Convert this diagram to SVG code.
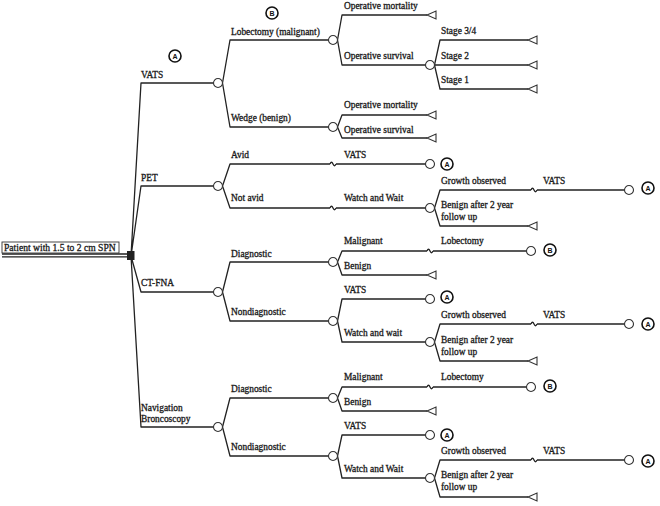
<svg xmlns="http://www.w3.org/2000/svg" xmlns:xlink="http://www.w3.org/1999/xlink" width="660" height="506" viewBox="0 0 660 506">
<style>
.ln{fill:none;stroke:#222;stroke-width:1.3;stroke-linejoin:round}
.t{font-family:"Liberation Serif","Times New Roman",serif;font-size:9.4px;fill:#1a1a1a;stroke:#1a1a1a;stroke-width:0.3}
.ch{fill:#fff;stroke:#333;stroke-width:1.1}
.tri{fill:#fff;stroke:#333;stroke-width:1.1;stroke-linejoin:miter}
.lc{fill:#fff;stroke:#111;stroke-width:1.6}
.lt{font-family:"Liberation Sans",Arial,sans-serif;font-size:7px;font-weight:bold;fill:#111;text-anchor:middle}
</style>
<defs>
<circle id="cn" r="4.5" class="ch"/>
<path id="tm" d="M0,0 L9,-4 L9,4 Z" class="tri"/>
<path id="bk" d="M-3,0 q1.5,-3.5 3,0 t3,0" class="ln"/>
</defs>
<rect width="660" height="506" fill="#fff"/>

<g id="connectors">
<path class="ln" d="M131,256 L141,83 L213.5,83 M131,256 L141,186 L213.5,186 M131,256 L141,292 L213.5,292 M131,256 L141,427 L213.5,427"/>
<path class="ln" d="M2,254 L128,254 M2,256.8 L128,256.8"/>
<!-- VATS -->
<path class="ln" d="M222.5,83 L230,40 L328.5,40 M222.5,83 L230,127 L328.5,127"/>
<path class="ln" d="M337.5,40 L342,15 L427,15 M337.5,40 L342,65 L425.5,65"/>
<path class="ln" d="M434.5,65 L440,40 L528,40 M434.5,65 L528,65 M434.5,65 L440,89 L528,89"/>
<path class="ln" d="M337.5,127 L342,115 L427,115 M337.5,127 L342,138 L427,138"/>
<!-- PET -->
<path class="ln" d="M222.5,186 L230,164 L330,164 M336,164 L425.5,164 M222.5,186 L230,208 L330,208 M336,208 L425.5,208"/>
<path class="ln" d="M434.5,208 L440,190 L531,190 M537,190 L624.5,190 M434.5,208 L440,226 L528,226"/>
<!-- CT-FNA -->
<path class="ln" d="M222.5,292 L230,262 L328.5,262 M222.5,292 L230,321 L328.5,321"/>
<path class="ln" d="M337.5,262 L342,251 L427,251 M433,251 L526.5,251 M337.5,262 L342,275 L427,275"/>
<path class="ln" d="M337.5,321 L342,299 L425.5,299 M337.5,321 L342,342 L425.5,342"/>
<path class="ln" d="M434.5,342 L440,324 L531,324 M537,324 L624.5,324 M434.5,342 L440,361 L528,361"/>
<!-- Navigation -->
<path class="ln" d="M222.5,427 L230,398 L328.5,398 M222.5,427 L230,456 L328.5,456"/>
<path class="ln" d="M337.5,398 L342,387 L427,387 M433,387 L526.5,387 M337.5,398 L342,411 L427,411"/>
<path class="ln" d="M337.5,456 L342,435 L425.5,435 M337.5,456 L342,478 L425.5,478"/>
<path class="ln" d="M434.5,478 L440,460 L531,460 M537,460 L624.5,460 M434.5,478 L440,497 L528,497"/>
<!-- break marks -->
<use xlink:href="#bk" x="333" y="164"/>
<use xlink:href="#bk" x="333" y="208"/>
<use xlink:href="#bk" x="534" y="190"/>
<use xlink:href="#bk" x="430" y="251"/>
<use xlink:href="#bk" x="534" y="324"/>
<use xlink:href="#bk" x="430" y="387"/>
<use xlink:href="#bk" x="534" y="460"/>
</g>

<g id="root">
<rect x="2" y="242" width="117" height="11" fill="#fff" stroke="#333" stroke-width="0.9"/>
<text class="t" x="4" y="250.8" style="font-size:9.6px">Patient with 1.5 to 2 cm SPN</text>
<rect x="127" y="251" width="7.5" height="9" fill="#222"/>
</g>

<g id="n-vats">
<text class="t" x="141" y="78">VATS</text>
<circle class="lc" cx="175" cy="56" r="6"/><text class="lt" x="175" y="58.5">A</text>
<use xlink:href="#cn" x="218" y="83"/>
</g>
<g id="n-lobectomy">
<text class="t" x="231" y="35">Lobectomy (malignant)</text>
<circle class="lc" cx="272" cy="13" r="6"/><text class="lt" x="272" y="15.5">B</text>
<use xlink:href="#cn" x="333" y="40"/>
</g>
<g id="n-lob-mort"><text class="t" x="344" y="9">Operative mortality</text><use xlink:href="#tm" x="427" y="15"/></g>
<g id="n-lob-surv"><text class="t" x="344" y="59">Operative survival</text><use xlink:href="#cn" x="430" y="65"/></g>
<g id="n-stage34"><text class="t" x="441" y="34">Stage 3/4</text><use xlink:href="#tm" x="528" y="40"/></g>
<g id="n-stage2"><text class="t" x="441" y="59">Stage 2</text><use xlink:href="#tm" x="528" y="65"/></g>
<g id="n-stage1"><text class="t" x="441" y="83">Stage 1</text><use xlink:href="#tm" x="528" y="89"/></g>
<g id="n-wedge">
<text class="t" x="231" y="121">Wedge (benign)</text>
<use xlink:href="#cn" x="333" y="127"/>
</g>
<g id="n-wedge-mort"><text class="t" x="344" y="108">Operative mortality</text><use xlink:href="#tm" x="427" y="115"/></g>
<g id="n-wedge-surv"><text class="t" x="344" y="133">Operative survival</text><use xlink:href="#tm" x="427" y="138"/></g>

<g id="n-pet">
<text class="t" x="141" y="181">PET</text>
<use xlink:href="#cn" x="218" y="186"/>
</g>
<g id="n-avid">
<text class="t" x="231" y="158">Avid</text>
<text class="t" x="344" y="158">VATS</text>
<use xlink:href="#cn" x="430" y="164"/>
<circle class="lc" cx="447" cy="164" r="6"/><text class="lt" x="447" y="166.5">A</text>
</g>
<g id="n-notavid">
<text class="t" x="231" y="201">Not avid</text>
<text class="t" x="344" y="201">Watch and Wait</text>
<use xlink:href="#cn" x="430" y="208"/>
</g>
<g id="n-pet-growth">
<text class="t" x="441" y="184">Growth observed</text>
<text class="t" x="543" y="184">VATS</text>
<use xlink:href="#cn" x="629" y="190"/>
<circle class="lc" cx="648" cy="188" r="6"/><text class="lt" x="648" y="190.5">A</text>
</g>
<g id="n-pet-benign">
<text class="t" x="441" y="208">Benign after 2 year</text>
<text class="t" x="441" y="220">follow up</text>
<use xlink:href="#tm" x="528" y="226"/>
</g>

<g id="n-ctfna">
<text class="t" x="141" y="286">CT-FNA</text>
<use xlink:href="#cn" x="218" y="292"/>
</g>
<g id="n-ct-diag">
<text class="t" x="231" y="257">Diagnostic</text>
<use xlink:href="#cn" x="333" y="262"/>
</g>
<g id="n-ct-malig">
<text class="t" x="344" y="244">Malignant</text>
<text class="t" x="441" y="244">Lobectomy</text>
<use xlink:href="#cn" x="531" y="251"/>
<circle class="lc" cx="550" cy="250" r="6"/><text class="lt" x="550" y="252.5">B</text>
</g>
<g id="n-ct-benign"><text class="t" x="344" y="269">Benign</text><use xlink:href="#tm" x="427" y="275"/></g>
<g id="n-ct-nondiag">
<text class="t" x="231" y="315">Nondiagnostic</text>
<use xlink:href="#cn" x="333" y="321"/>
</g>
<g id="n-ct-vats">
<text class="t" x="344" y="293">VATS</text>
<use xlink:href="#cn" x="430" y="299"/>
<circle class="lc" cx="447" cy="297" r="6"/><text class="lt" x="447" y="299.5">A</text>
</g>
<g id="n-ct-watch">
<text class="t" x="344" y="336">Watch and wait</text>
<use xlink:href="#cn" x="430" y="342"/>
</g>
<g id="n-ct-growth">
<text class="t" x="441" y="318">Growth observed</text>
<text class="t" x="543" y="318">VATS</text>
<use xlink:href="#cn" x="629" y="324"/>
<circle class="lc" cx="648" cy="324" r="6"/><text class="lt" x="648" y="326.5">A</text>
</g>
<g id="n-ct-benign2">
<text class="t" x="441" y="343">Benign after 2 year</text>
<text class="t" x="441" y="355">follow up</text>
<use xlink:href="#tm" x="528" y="361"/>
</g>

<g id="n-nav">
<text class="t" x="141" y="411">Navigation</text>
<text class="t" x="141" y="422">Broncoscopy</text>
<use xlink:href="#cn" x="218" y="427"/>
</g>
<g id="n-nav-diag">
<text class="t" x="231" y="392">Diagnostic</text>
<use xlink:href="#cn" x="333" y="398"/>
</g>
<g id="n-nav-malig">
<text class="t" x="344" y="380">Malignant</text>
<text class="t" x="441" y="380">Lobectomy</text>
<use xlink:href="#cn" x="531" y="387"/>
<circle class="lc" cx="550" cy="386" r="6"/><text class="lt" x="550" y="388.5">B</text>
</g>
<g id="n-nav-benign"><text class="t" x="344" y="405">Benign</text><use xlink:href="#tm" x="427" y="411"/></g>
<g id="n-nav-nondiag">
<text class="t" x="231" y="450">Nondiagnostic</text>
<use xlink:href="#cn" x="333" y="456"/>
</g>
<g id="n-nav-vats">
<text class="t" x="344" y="429">VATS</text>
<use xlink:href="#cn" x="430" y="435"/>
<circle class="lc" cx="447" cy="435" r="6"/><text class="lt" x="447" y="437.5">A</text>
</g>
<g id="n-nav-watch">
<text class="t" x="344" y="472">Watch and Wait</text>
<use xlink:href="#cn" x="430" y="478"/>
</g>
<g id="n-nav-growth">
<text class="t" x="441" y="454">Growth observed</text>
<text class="t" x="543" y="454">VATS</text>
<use xlink:href="#cn" x="629" y="460"/>
<circle class="lc" cx="648" cy="461" r="6"/><text class="lt" x="648" y="463.5">A</text>
</g>
<g id="n-nav-benign2">
<text class="t" x="441" y="478">Benign after 2 year</text>
<text class="t" x="441" y="490">follow up</text>
<use xlink:href="#tm" x="528" y="497"/>
</g>
</svg>
